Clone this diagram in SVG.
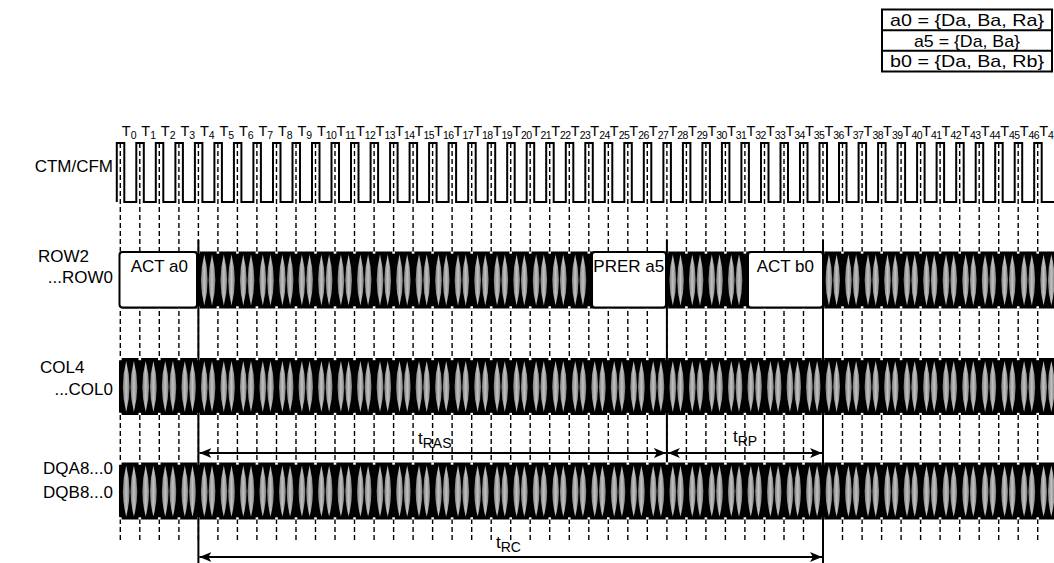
<svg xmlns="http://www.w3.org/2000/svg" xmlns:xlink="http://www.w3.org/1999/xlink" width="1054" height="563" viewBox="0 0 1054 563">
<style>
text{font-family:"Liberation Sans",Arial,sans-serif;fill:#000}
.lbl{font-size:17px}
.tbl{font-size:17px;text-anchor:middle}
.tk{font-size:14.5px}
.sub{font-size:10.5px}
.sub2{font-size:10.5px;letter-spacing:-0.6px}
.box{font-size:17px}
.tm{font-size:17px}
.tms{font-size:14px}
.grid{fill:none;stroke:#000;stroke-width:1.4;stroke-dasharray:5 3}
.wave{fill:none;stroke:#000;stroke-width:2;stroke-linejoin:miter}
.cmd{fill:#fff;stroke:#000;stroke-width:2}
.solid{fill:none;stroke:#000;stroke-width:2}
.arr{fill:none;stroke:#000;stroke-width:2;marker-start:url(#ah);marker-end:url(#ah)}
.lens{fill:url(#lg)}
</style>
<defs>
<linearGradient id="lg" x1="0" y1="0" x2="1" y2="0">
<stop offset="0" stop-color="#7c7c7c"/>
<stop offset="0.5" stop-color="#c2c2c2"/>
<stop offset="1" stop-color="#7c7c7c"/>
</linearGradient>
<marker id="ah" viewBox="0 0 12 10" refX="12" refY="5" markerWidth="12" markerHeight="10" markerUnits="userSpaceOnUse" orient="auto-start-reverse">
<path d="M0,0 L12,5 L0,10 L3,5 Z" fill="#000"/>
</marker>
<g id="cyc">
<path class="lens" d="M5.9,3 Q12.6,28.5 5.9,54 Q-0.8,28.5 5.9,3 Z"/>
<path class="lens" d="M13.6,3 Q20.3,28.5 13.6,54 Q6.9,28.5 13.6,3 Z"/>
<rect x="-1.3" y="0" width="2.6" height="2.2" fill="#fff"/>
<rect x="-1.3" y="54.8" width="2.6" height="2.2" fill="#fff"/>
</g>
<g id="band">
<rect x="119" y="0" width="940" height="57" rx="4" fill="#000"/>
<use xlink:href="#cyc" x="120.3"/><use xlink:href="#cyc" x="139.8"/><use xlink:href="#cyc" x="159.3"/><use xlink:href="#cyc" x="178.9"/>
<use xlink:href="#cyc" x="198.4"/><use xlink:href="#cyc" x="217.9"/><use xlink:href="#cyc" x="237.4"/><use xlink:href="#cyc" x="256.9"/>
<use xlink:href="#cyc" x="276.5"/><use xlink:href="#cyc" x="296.0"/><use xlink:href="#cyc" x="315.5"/><use xlink:href="#cyc" x="335.0"/>
<use xlink:href="#cyc" x="354.5"/><use xlink:href="#cyc" x="374.1"/><use xlink:href="#cyc" x="393.6"/><use xlink:href="#cyc" x="413.1"/>
<use xlink:href="#cyc" x="432.6"/><use xlink:href="#cyc" x="452.1"/><use xlink:href="#cyc" x="471.7"/><use xlink:href="#cyc" x="491.2"/>
<use xlink:href="#cyc" x="510.7"/><use xlink:href="#cyc" x="530.2"/><use xlink:href="#cyc" x="549.7"/><use xlink:href="#cyc" x="569.3"/>
<use xlink:href="#cyc" x="588.8"/><use xlink:href="#cyc" x="608.3"/><use xlink:href="#cyc" x="627.8"/><use xlink:href="#cyc" x="647.3"/>
<use xlink:href="#cyc" x="666.9"/><use xlink:href="#cyc" x="686.4"/><use xlink:href="#cyc" x="705.9"/><use xlink:href="#cyc" x="725.4"/>
<use xlink:href="#cyc" x="744.9"/><use xlink:href="#cyc" x="764.5"/><use xlink:href="#cyc" x="784.0"/><use xlink:href="#cyc" x="803.5"/>
<use xlink:href="#cyc" x="823.0"/><use xlink:href="#cyc" x="842.5"/><use xlink:href="#cyc" x="862.1"/><use xlink:href="#cyc" x="881.6"/>
<use xlink:href="#cyc" x="901.1"/><use xlink:href="#cyc" x="920.6"/><use xlink:href="#cyc" x="940.1"/><use xlink:href="#cyc" x="959.7"/>
<use xlink:href="#cyc" x="979.2"/><use xlink:href="#cyc" x="998.7"/><use xlink:href="#cyc" x="1018.2"/><use xlink:href="#cyc" x="1037.7"/>
</g>
</defs>
<rect width="1054" height="563" fill="#fff"/>

<g id="legend">
<rect x="882" y="9.5" width="170" height="62" fill="#fff" stroke="#000" stroke-width="2"/>
<line x1="882" y1="30.2" x2="1052" y2="30.2" stroke="#000" stroke-width="2"/>
<line x1="882" y1="50.8" x2="1052" y2="50.8" stroke="#000" stroke-width="2"/>
<text class="tbl" x="967" y="26.2" textLength="154" lengthAdjust="spacingAndGlyphs">a0 = {Da, Ba, Ra}</text>
<text class="tbl" x="967" y="46.8" textLength="106" lengthAdjust="spacingAndGlyphs">a5 = {Da, Ba}</text>
<text class="tbl" x="967" y="67.4" textLength="154" lengthAdjust="spacingAndGlyphs">b0 = {Da, Ba, Rb}</text>
</g>

<g id="signal-labels">
<text class="lbl" x="113" y="172" text-anchor="end">CTM/CFM</text>
<text class="lbl" x="38" y="262">ROW2</text>
<text class="lbl" x="113" y="283" text-anchor="end">...ROW0</text>
<text class="lbl" x="40" y="373">COL4</text>
<text class="lbl" x="113" y="395" text-anchor="end">...COL0</text>
<text class="lbl" x="113" y="474" text-anchor="end">DQA8...0</text>
<text class="lbl" x="113" y="498" text-anchor="end">DQB8...0</text>
</g>

<g id="clock-labels">
<text class="tk" x="121.8" y="136">T<tspan class="sub" dy="3">0</tspan></text>
<text class="tk" x="141.3" y="136">T<tspan class="sub" dy="3">1</tspan></text>
<text class="tk" x="160.8" y="136">T<tspan class="sub" dy="3">2</tspan></text>
<text class="tk" x="180.4" y="136">T<tspan class="sub" dy="3">3</tspan></text>
<text class="tk" x="199.9" y="136">T<tspan class="sub" dy="3">4</tspan></text>
<text class="tk" x="219.4" y="136">T<tspan class="sub" dy="3">5</tspan></text>
<text class="tk" x="238.9" y="136">T<tspan class="sub" dy="3">6</tspan></text>
<text class="tk" x="258.4" y="136">T<tspan class="sub" dy="3">7</tspan></text>
<text class="tk" x="278.0" y="136">T<tspan class="sub" dy="3">8</tspan></text>
<text class="tk" x="297.5" y="136">T<tspan class="sub" dy="3">9</tspan></text>
<text class="tk" x="317.0" y="136">T<tspan class="sub2" dy="3">10</tspan></text>
<text class="tk" x="336.5" y="136">T<tspan class="sub2" dy="3">11</tspan></text>
<text class="tk" x="356.0" y="136">T<tspan class="sub2" dy="3">12</tspan></text>
<text class="tk" x="375.6" y="136">T<tspan class="sub2" dy="3">13</tspan></text>
<text class="tk" x="395.1" y="136">T<tspan class="sub2" dy="3">14</tspan></text>
<text class="tk" x="414.6" y="136">T<tspan class="sub2" dy="3">15</tspan></text>
<text class="tk" x="434.1" y="136">T<tspan class="sub2" dy="3">16</tspan></text>
<text class="tk" x="453.6" y="136">T<tspan class="sub2" dy="3">17</tspan></text>
<text class="tk" x="473.2" y="136">T<tspan class="sub2" dy="3">18</tspan></text>
<text class="tk" x="492.7" y="136">T<tspan class="sub2" dy="3">19</tspan></text>
<text class="tk" x="512.2" y="136">T<tspan class="sub2" dy="3">20</tspan></text>
<text class="tk" x="531.7" y="136">T<tspan class="sub2" dy="3">21</tspan></text>
<text class="tk" x="551.2" y="136">T<tspan class="sub2" dy="3">22</tspan></text>
<text class="tk" x="570.8" y="136">T<tspan class="sub2" dy="3">23</tspan></text>
<text class="tk" x="590.3" y="136">T<tspan class="sub2" dy="3">24</tspan></text>
<text class="tk" x="609.8" y="136">T<tspan class="sub2" dy="3">25</tspan></text>
<text class="tk" x="629.3" y="136">T<tspan class="sub2" dy="3">26</tspan></text>
<text class="tk" x="648.8" y="136">T<tspan class="sub2" dy="3">27</tspan></text>
<text class="tk" x="668.4" y="136">T<tspan class="sub2" dy="3">28</tspan></text>
<text class="tk" x="687.9" y="136">T<tspan class="sub2" dy="3">29</tspan></text>
<text class="tk" x="707.4" y="136">T<tspan class="sub2" dy="3">30</tspan></text>
<text class="tk" x="726.9" y="136">T<tspan class="sub2" dy="3">31</tspan></text>
<text class="tk" x="746.4" y="136">T<tspan class="sub2" dy="3">32</tspan></text>
<text class="tk" x="766.0" y="136">T<tspan class="sub2" dy="3">33</tspan></text>
<text class="tk" x="785.5" y="136">T<tspan class="sub2" dy="3">34</tspan></text>
<text class="tk" x="805.0" y="136">T<tspan class="sub2" dy="3">35</tspan></text>
<text class="tk" x="824.5" y="136">T<tspan class="sub2" dy="3">36</tspan></text>
<text class="tk" x="844.0" y="136">T<tspan class="sub2" dy="3">37</tspan></text>
<text class="tk" x="863.6" y="136">T<tspan class="sub2" dy="3">38</tspan></text>
<text class="tk" x="883.1" y="136">T<tspan class="sub2" dy="3">39</tspan></text>
<text class="tk" x="902.6" y="136">T<tspan class="sub2" dy="3">40</tspan></text>
<text class="tk" x="922.1" y="136">T<tspan class="sub2" dy="3">41</tspan></text>
<text class="tk" x="941.6" y="136">T<tspan class="sub2" dy="3">42</tspan></text>
<text class="tk" x="961.2" y="136">T<tspan class="sub2" dy="3">43</tspan></text>
<text class="tk" x="980.7" y="136">T<tspan class="sub2" dy="3">44</tspan></text>
<text class="tk" x="1000.2" y="136">T<tspan class="sub2" dy="3">45</tspan></text>
<text class="tk" x="1019.7" y="136">T<tspan class="sub2" dy="3">46</tspan></text>
<text class="tk" x="1039.2" y="136">T<tspan class="sub2" dy="3">47</tspan></text>
</g>

<g id="grid">
<path class="grid" d="M120.3,143V540M139.8,143V540M159.3,143V540M178.9,143V540M198.4,143V540M217.9,143V540M237.4,143V540M256.9,143V540M276.5,143V540M296,143V540M315.5,143V540M335,143V540M354.5,143V540M374.1,143V540M393.6,143V540M413.1,143V540M432.6,143V540M452.1,143V540M471.7,143V540M491.2,143V540M510.7,143V540M530.2,143V540M549.7,143V540M569.3,143V540M588.8,143V540M608.3,143V540M627.8,143V540M647.3,143V540M666.9,143V540M686.4,143V540M705.9,143V540M725.4,143V540M744.9,143V540M764.5,143V540M784,143V540M803.5,143V540M823,143V540M842.5,143V540M862.1,143V540M881.6,143V540M901.1,143V540M920.6,143V540M940.1,143V540M959.7,143V540M979.2,143V540M998.7,143V540M1018.2,143V540M1037.7,143V540"/>
</g>

<g id="clock">
<path class="wave" d="M116.8,202V143H124.3V202H136.3V143H143.8V202H155.8V143H163.3V202H175.4V143H182.9V202H194.9V143H202.4V202H214.4V143H221.9V202H233.9V143H241.4V202H253.4V143H260.9V202H273V143H280.5V202H292.5V143H300V202H312V143H319.5V202H331.5V143H339V202H351V143H358.5V202H370.6V143H378.1V202H390.1V143H397.6V202H409.6V143H417.1V202H429.1V143H436.6V202H448.6V143H456.1V202H468.2V143H475.7V202H487.7V143H495.2V202H507.2V143H514.7V202H526.7V143H534.2V202H546.2V143H553.7V202H565.8V143H573.3V202H585.3V143H592.8V202H604.8V143H612.3V202H624.3V143H631.8V202H643.8V143H651.3V202H663.4V143H670.9V202H682.9V143H690.4V202H702.4V143H709.9V202H721.9V143H729.4V202H741.4V143H748.9V202H761V143H768.5V202H780.5V143H788V202H800V143H807.5V202H819.5V143H827V202H839V143H846.5V202H858.6V143H866.1V202H878.1V143H885.6V202H897.6V143H905.1V202H917.1V143H924.6V202H936.6V143H944.1V202H956.2V143H963.7V202H975.7V143H983.2V202H995.2V143H1002.7V202H1014.7V143H1022.2V202H1034.2V143H1041.7V202H1056"/>
</g>

<g id="row-bus">
<use xlink:href="#band" y="251.5"/>
<rect class="cmd" x="119.5" y="252" width="77.5" height="55.5" rx="3"/>
<rect class="cmd" x="592" y="252" width="74" height="55.5" rx="3"/>
<rect class="cmd" x="748" y="252" width="75" height="55.5" rx="3"/>
<text class="box" x="130.7" y="272">ACT a0</text>
<text class="box" x="593.3" y="272">PRER a5</text>
<text class="box" x="756.7" y="272">ACT b0</text>
</g>

<g id="col-bus">
<use xlink:href="#band" y="358"/>
</g>

<g id="dq-bus">
<use xlink:href="#band" y="462.5"/>
</g>

<g id="connectors">
<path class="solid" d="M198.4,240V563M666.9,240V462M823,240V563"/>
<path class="arr" d="M199.4,453H665.9"/>
<path class="arr" d="M667.9,453H822"/>
<path class="arr" d="M199.4,557H822"/>
</g>

<g id="timing-labels">
<text class="tm" x="418" y="444">t<tspan class="tms" dy="4">RAS</tspan></text>
<text class="tm" x="733" y="442">t<tspan class="tms" dy="4">RP</tspan></text>
<text class="tm" x="496" y="548">t<tspan class="tms" dy="4">RC</tspan></text>
</g>
</svg>
